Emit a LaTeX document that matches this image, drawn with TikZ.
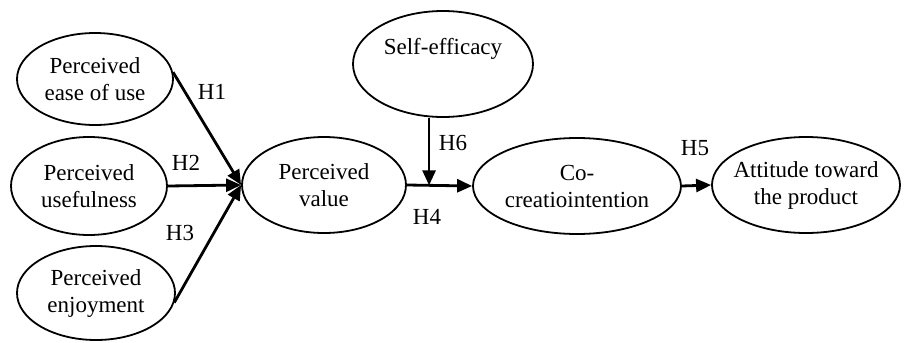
\documentclass[tikz,border=0pt]{standalone}
\usepackage{fontspec}
\setmainfont{Liberation Serif}
\usetikzlibrary{shapes.geometric,arrows.meta,calc}

\begin{document}
\begin{tikzpicture}[x=0.5pt, y=-0.5pt,
	construct/.style={draw, ellipse, line width=0.9pt, inner sep=-8pt, align=center, font=\fontsize{11.5}{13.5}\selectfont},
	link/.style={line width=1.4pt, -{Triangle[length=7.5pt,width=6.5pt]}},
	hyp/.style={font=\fontsize{11.5}{13.5}\selectfont}]
	\useasboundingbox (0,0) rectangle (906,343);
	% constructs
	\node[construct, minimum width=78pt, minimum height=46pt] (peou) at (95,79) {Perceived\\ease of use};
	\node[construct, minimum width=78pt, minimum height=49pt] (pu) at (89,186) {Perceived\\usefulness};
	\node[construct, minimum width=79pt, minimum height=47pt] (pe) at (96,293) {Perceived\\enjoyment};
	\node[construct, minimum width=82pt, minimum height=48pt] (pv) at (324,185) {Perceived\\value};
	\node[construct, minimum width=90pt, minimum height=53pt] (se) at (443,64) {Self-efficacy\\\strut};
	\node[construct, minimum width=104pt, minimum height=48pt] (cci) at (577,186) {Co-\\creatiointention};
	\node[construct, minimum width=94pt, minimum height=48pt] (att) at (806,185) {Attitude toward\\the product};
	% paths
	\draw[link] (peou.5) -- (pv.west);
	\draw[link] (pu.east) -- (pv.west);
	\draw[link] (pe.-7) -- (pv.west);
	\draw[link] (pv.east) -- (cci.west);
	\coordinate (mod) at ($(pv.east)!0.34!(cci.west)$);
	\draw[link] (mod |- se.south) -- (mod);
	\draw[link] (cci.east) -- (att.west);
	% hypotheses
	\node[hyp] (h1) at (212,92) {H1};
	\node[hyp] (h2) at (186,163) {H2};
	\node[hyp] (h3) at (180,233) {H3};
	\node[hyp] (h4) at (427,217) {H4};
	\node[hyp] (h6) at (453,143) {H6};
	\node[hyp] (h5) at (695,148) {H5};
\end{tikzpicture}
\end{document}
